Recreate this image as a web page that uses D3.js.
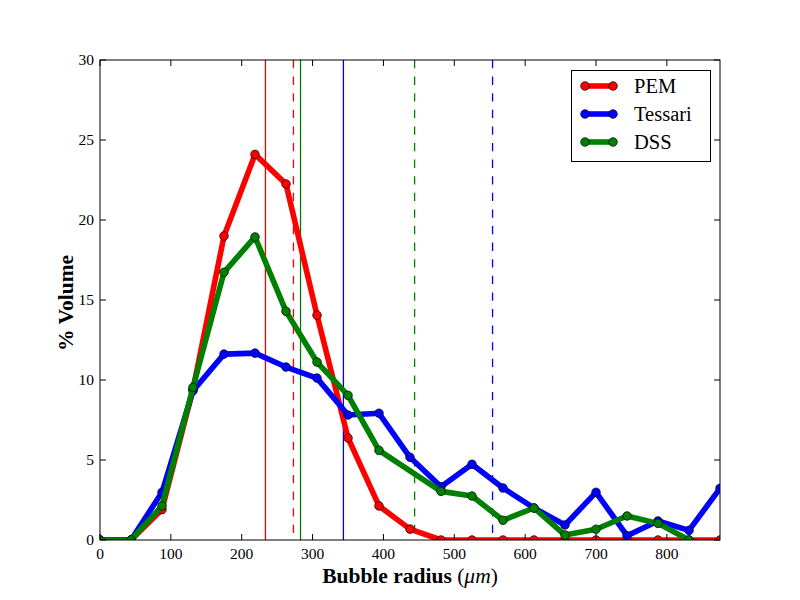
<!DOCTYPE html>
<html>
<head>
<meta charset="utf-8">
<script src="https://cdn.jsdelivr.net/npm/d3@7"></script>
<style>
  body { margin: 0; background: #fff; }
  svg { display: block; }
  text { font-family: "Liberation Serif", "DejaVu Serif", serif; }
</style>
</head>
<body>
<svg id="chart" width="800" height="600"></svg>
<script>
// ---- data ----
const radius = [0, 43.75, 87.5, 131.25, 175, 218.75, 262.5, 306.25, 350, 393.75, 437.5,
                481.25, 525, 568.75, 612.5, 656.25, 700, 743.75, 787.5, 831.25, 875];
const pem     = [0, 0, 1.9, 9.4, 19.0, 24.1, 22.25, 14.05, 6.38, 2.13, 0.68,
                 0, 0, 0, 0, 0, 0, 0, 0, 0, 0];
const tessari = [0, 0, 2.98, 9.33, 11.62, 11.68, 10.81, 10.12, 7.81, 7.92, 5.17,
                 3.33, 4.73, 3.25, 2.0, 0.94, 2.98, 0.27, 1.19, 0.6, 3.23];
const dss     = [0, 0, 2.13, 9.54, 16.73, 18.94, 14.29, 11.12, 9.04, 5.6, null,
                 3.04, 2.75, 1.23, 2.0, 0.31, 0.67, 1.5, 1.04, 0.0, null];
const seriesNames = ["PEM", "Tessari", "DSS"];
const seriesColors = ["#ff0000", "#0000ff", "#008000"];
// mean (solid) and second statistic (dashed) radius for each series
const meanLines = [233.5, 343.5, 283];
const dashLines = [273, 554, 444];
const xTicks = [0, 100, 200, 300, 400, 500, 600, 700, 800];
const yTicks = [0, 5, 10, 15, 20, 25, 30];

// ---- layout ----
const svg = d3.select("#chart");
const L = 100, T = 60, R = 720, B = 540;
const x = d3.scaleLinear().domain([0, 875]).range([L, R]);
const y = d3.scaleLinear().domain([0, 30]).range([B, T]);

svg.append("defs").append("clipPath").attr("id", "clip")
  .append("rect").attr("x", L).attr("y", T).attr("width", R - L).attr("height", B - T);

const plot = svg.append("g").attr("clip-path", "url(#clip)");

// vertical reference lines
seriesNames.forEach((n, i) => {
  plot.append("line")
    .attr("x1", x(meanLines[i])).attr("x2", x(meanLines[i]))
    .attr("y1", T).attr("y2", B)
    .attr("stroke", seriesColors[i]).attr("stroke-width", 1.3);
  plot.append("line")
    .attr("x1", x(dashLines[i])).attr("x2", x(dashLines[i]))
    .attr("y1", T).attr("y2", B)
    .attr("stroke", seriesColors[i]).attr("stroke-width", 1.3)
    .attr("stroke-dasharray", "8.3,8.3");
});

// series
const allSeries = [pem, tessari, dss];
const line = d3.line().x(d => x(d[0])).y(d => y(d[1]));
allSeries.forEach((vals, i) => {
  const pts = radius.map((r, j) => [r, vals[j]]).filter(d => d[1] !== null);
  const g = plot.append("g");
  g.append("path").datum(pts)
    .attr("d", line)
    .attr("fill", "none")
    .attr("stroke", seriesColors[i])
    .attr("stroke-width", 5.6)
    .attr("stroke-linejoin", "round")
    .attr("stroke-linecap", "butt");
  g.selectAll("circle").data(pts).enter().append("circle")
    .attr("cx", d => x(d[0])).attr("cy", d => y(d[1]))
    .attr("r", 4.3)
    .attr("fill", seriesColors[i])
    .attr("stroke", "#000").attr("stroke-width", 0.7);
});

// frame
svg.append("rect").attr("x", L).attr("y", T).attr("width", R - L).attr("height", B - T)
  .attr("fill", "none").attr("stroke", "#000").attr("stroke-width", 1);

// ticks (inside, all four sides)
const tl = 6;
const axes = svg.append("g").attr("stroke", "#000").attr("stroke-width", 1);
xTicks.forEach(t => {
  axes.append("line").attr("x1", x(t)).attr("x2", x(t)).attr("y1", B).attr("y2", B - tl);
  axes.append("line").attr("x1", x(t)).attr("x2", x(t)).attr("y1", T).attr("y2", T + tl);
});
yTicks.forEach(t => {
  axes.append("line").attr("x1", L).attr("x2", L + tl).attr("y1", y(t)).attr("y2", y(t));
  axes.append("line").attr("x1", R).attr("x2", R - tl).attr("y1", y(t)).attr("y2", y(t));
});

// tick labels
svg.append("g").selectAll("text").data(xTicks).enter().append("text")
  .attr("x", d => x(d)).attr("y", B + 19)
  .attr("text-anchor", "middle").attr("font-size", 15.5).text(d => d);
svg.append("g").selectAll("text").data(yTicks).enter().append("text")
  .attr("x", L - 6).attr("y", d => y(d) + 5)
  .attr("text-anchor", "end").attr("font-size", 15.5).text(d => d);

// axis labels
const xl = svg.append("text").attr("x", (L + R) / 2).attr("y", 583)
  .attr("text-anchor", "middle").attr("font-size", 21.5);
xl.append("tspan").attr("font-weight", "bold").text("Bubble radius ");
xl.append("tspan").text("(");
xl.append("tspan").attr("font-style", "italic").text("μm");
xl.append("tspan").text(")");

svg.append("text")
  .attr("transform", `translate(73, ${(T + B) / 2 + 3}) rotate(-90)`)
  .attr("text-anchor", "middle").attr("font-size", 21.5).attr("font-weight", "bold")
  .text("% Volume");

// legend
const lg = svg.append("g");
lg.append("rect").attr("x", 571.5).attr("y", 70.5).attr("width", 139).attr("height", 91)
  .attr("fill", "#fff").attr("stroke", "#000").attr("stroke-width", 1);
const lgY = [86, 114, 142];
seriesNames.forEach((n, i) => {
  lg.append("line").attr("x1", 585).attr("x2", 613).attr("y1", lgY[i]).attr("y2", lgY[i])
    .attr("stroke", seriesColors[i]).attr("stroke-width", 5.6);
  [585, 613].forEach(cx => lg.append("circle").attr("cx", cx).attr("cy", lgY[i]).attr("r", 4.3)
    .attr("fill", seriesColors[i]).attr("stroke", "#000").attr("stroke-width", 0.7));
  lg.append("text").attr("x", 634).attr("y", lgY[i] + 7).attr("font-size", 20.5).text(n);
});
</script>
</body>
</html>
